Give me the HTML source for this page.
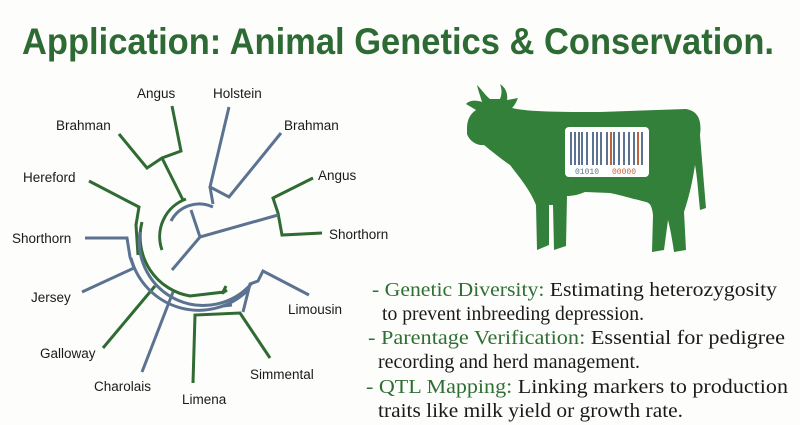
<!DOCTYPE html>
<html><head><meta charset="utf-8"><style>
html,body{margin:0;padding:0;background:#fdfdfb;}
svg{display:block}
.l{font-family:"Liberation Sans",sans-serif;font-size:13.5px;fill:#1a1a1a}
.s{font-family:"Liberation Serif",serif;font-size:19.5px;fill:#1a1a1a}
.g{fill:#2f6f35}
</style></head><body>
<svg width="800" height="425" viewBox="0 0 800 425" xmlns="http://www.w3.org/2000/svg">
<rect width="800" height="425" fill="#fdfdfb"/>
<text x="22" y="54" font-family="Liberation Sans,sans-serif" font-weight="bold" font-size="37" fill="#2e6b34" textLength="752" lengthAdjust="spacingAndGlyphs">Application: Animal Genetics &amp; Conservation.</text>

<g fill="none" stroke-width="3" stroke-linejoin="miter">
<g stroke="#2f6b32">
<polyline points="172,106 181,151 162,158 147,168 119,134"/>
<polyline points="162,158 183,200"/>
<path d="M186,199 A40,40 0 0 0 162,250"/>
<polyline points="313,178 273,198 278,213 282,235 322,233"/>
<polyline points="89,181 139,207 136,225 138,255"/>
<path d="M142,222 A60,60 0 0 0 190,296 L224,292 L227,290"/>
<polyline points="103,348 155,286"/>
<polyline points="193,383 195,315 240,313 270,358"/>
<polyline points="222,294 226,286"/>
</g>
<g stroke="#5b7390">
<polyline points="229,107 210,187 229,197 281,133"/>
<polyline points="210,187 213,204"/>
<path d="M171,221 A32,32 0 0 1 213,207"/>
<polyline points="191,210 200,237 278,215"/>
<polyline points="200,237 172,270"/>
<polyline points="85,238 127,238 130,257 134,268 82,292"/>
<path d="M131,258 A70,70 0 0 0 248,290"/>
<path d="M140,232 A64,64 0 0 0 252,283"/>
<polyline points="142,372 173,292"/>
<polyline points="309,295 263,271 258,281 250,284 243,312"/>
<polyline points="223,306 232,305"/>
</g>
</g>

<text class="l" x="137" y="98">Angus</text>
<text class="l" x="213" y="98">Holstein</text>
<text class="l" x="56" y="130">Brahman</text>
<text class="l" x="284" y="130">Brahman</text>
<text class="l" x="23" y="182">Hereford</text>
<text class="l" x="318" y="180">Angus</text>
<text class="l" x="12" y="243">Shorthorn</text>
<text class="l" x="329" y="239">Shorthorn</text>
<text class="l" x="31" y="302">Jersey</text>
<text class="l" x="288" y="314">Limousin</text>
<text class="l" x="40" y="358">Galloway</text>
<text class="l" x="250" y="379">Simmental</text>
<text class="l" x="94" y="391">Charolais</text>
<text class="l" x="182" y="404">Limena</text>

<path fill="#33803a" d="M467,128 C467,120 470,114 476,110 L466,104 C470,100 476,100 482,102 C480,95 478,90 477,85 C482,90 486,96 490,99 L500,99 C502,94 502,89 500,84 C506,88 508,94 507,100 L518,98 C516,103 514,106 512,108 C530,112 560,112 600,112 L686,109 C698,111 702,120 700,135 C702,160 704,185 706,208 L700,210 C698,190 697,175 695,165 C692,185 688,200 684,212 L686,250 L674,252 C672,238 670,228 668,220 L664,250 L652,252 L653,215 C652,206 650,203 646,202 C630,198 620,195 610,193 L585,192 C578,195 572,196 567,196 L566,246 L554,250 L553,205 L549,205 L549,245 L537,250 L536,205 C530,190 520,178 510,165 C500,158 490,150 484,145 C476,146 469,140 467,134 Z"/>
<rect x="565" y="127" width="84" height="50" rx="4" fill="#fff"/>
<g stroke="#5b7390" stroke-width="2">
<line x1="571" y1="132" x2="571" y2="165"/><line x1="575" y1="132" x2="575" y2="165"/><line x1="579" y1="132" x2="579" y2="165"/><line x1="582" y1="132" x2="582" y2="165"/><line x1="587" y1="132" x2="587" y2="165"/><line x1="593" y1="132" x2="593" y2="165"/><line x1="597" y1="132" x2="597" y2="165"/><line x1="601" y1="132" x2="601" y2="165"/><line x1="607" y1="132" x2="607" y2="165"/><line x1="614" y1="132" x2="614" y2="165"/><line x1="619" y1="132" x2="619" y2="165"/><line x1="624" y1="132" x2="624" y2="165"/><line x1="629" y1="132" x2="629" y2="165"/><line x1="634" y1="132" x2="634" y2="165"/><line x1="642" y1="132" x2="642" y2="165"/>
</g>
<g stroke="#c0623c" stroke-width="2"><line x1="611" y1="132" x2="611" y2="165"/><line x1="638" y1="132" x2="638" y2="165"/></g>
<text x="575" y="174" font-family="Liberation Mono,monospace" font-size="8" fill="#5b7390">01010</text>
<text x="612" y="174" font-family="Liberation Mono,monospace" font-size="8" fill="#c0623c">00000</text>

<text class="s" x="372" y="296" textLength="405" lengthAdjust="spacingAndGlyphs"><tspan class="g">- Genetic Diversity:</tspan> Estimating heterozygosity</text>
<text class="s" x="382" y="320" textLength="262" lengthAdjust="spacingAndGlyphs">to prevent inbreeding depression.</text>
<text class="s" x="368" y="344" textLength="417" lengthAdjust="spacingAndGlyphs"><tspan class="g">- Parentage Verification:</tspan> Essential for pedigree</text>
<text class="s" x="378" y="368" textLength="262" lengthAdjust="spacingAndGlyphs">recording and herd management.</text>
<text class="s" x="366" y="393" textLength="422" lengthAdjust="spacingAndGlyphs"><tspan class="g">- QTL Mapping:</tspan> Linking markers to production</text>
<text class="s" x="378" y="417" textLength="305" lengthAdjust="spacingAndGlyphs">traits like milk yield or growth rate.</text>
</svg>
</body></html>
